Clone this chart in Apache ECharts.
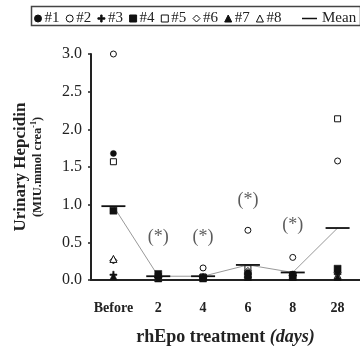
<!DOCTYPE html>
<html>
<head>
<meta charset="utf-8">
<script src="https://cdn.jsdelivr.net/npm/echarts@6/dist/echarts.min.js"></script>
<style>
html,body{margin:0;padding:0;background:#fff;}
#chart{width:360px;height:351px;}
</style>
</head>
<body>
<div id="chart"></div>
<script>
// ---- data ----
var categories = ['Before', '2', '4', '6', '8', '28'];
var s1 = [1.68, 0.04, 0.03, 0.10, 0.08, 0.12];   // #1 filled circle
var s2 = [3.00, 0.04, 0.16, 0.66, 0.30, 1.58];   // #2 open circle
var s3 = [0.07, 0.03, 0.03, 0.08, 0.06, 0.08];   // #3 plus
var s4 = [0.92, 0.08, 0.03, 0.06, 0.05, 0.15];   // #4 filled square
var s5 = [1.57, 0.05, 0.04, 0.15, 0.07, 2.14];   // #5 open square
var s6 = [0.26, 0.03, 0.03, 0.12, 0.06, 0.10];   // #6 open diamond
var s7 = [0.05, 0.02, 0.02, 0.04, 0.04, 0.04];   // #7 filled triangle
var s8 = [0.28, 0.03, 0.04, 0.08, 0.05, 0.06];   // #8 open triangle
var meanValues = [0.98, 0.05, 0.05, 0.20, 0.10, 0.69];
var sigPositions = [null, 0.57, 0.57, 1.06, 0.73, null];
var yTicks = [0, 0.5, 1.0, 1.5, 2.0, 2.5, 3.0];

var INK = '#111';
var SERIF = '"Liberation Serif", "Times New Roman", serif';
var PLUS = 'path://M4,0H6V4H10V6H6V10H4V6H0V4H4Z';

function marker(name, data, symbol, filled, size) {
  return {
    name: name,
    type: 'scatter',
    data: data,
    symbol: symbol,
    symbolSize: size || 6,
    itemStyle: {
      color: filled ? INK : '#fff',
      borderColor: INK,
      borderWidth: filled ? 0.5 : 1,
      opacity: 1
    },
    emphasis: {disabled: true},
    z: filled ? 4 : 3
  };
}

var option = {
  animation: false,
  backgroundColor: '#fff',
  textStyle: {fontFamily: SERIF},
  graphic: [{
    type: 'rect',
    left: 29, top: 4,
    shape: {width: 329, height: 19},
    style: {fill: 'none', stroke: '#444', lineWidth: 1.5},
    silent: true
  }],
  legend: [{
    left: 29, top: 6,
    orient: 'horizontal',
    itemWidth: 7, itemHeight: 7,
    itemGap: 6.2,
    selectedMode: false,
    textStyle: {fontFamily: SERIF, fontSize: 15, color: '#222', padding: [0,0,0,-2]},
    itemStyle: {borderWidth: 1},
    data: [
      {name: '#1', icon: 'circle'},
      {name: '#2', icon: 'circle'},
      {name: '#3', icon: PLUS},
      {name: '#4', icon: 'rect'},
      {name: '#5', icon: 'rect'},
      {name: '#6', icon: 'diamond'},
      {name: '#7', icon: 'triangle'},
      {name: '#8', icon: 'triangle'}
    ]
  }, {
    left: 297, top: 6,
    itemWidth: 15, itemHeight: 1.5,
    selectedMode: false,
    textStyle: {fontFamily: SERIF, fontSize: 15, color: '#222'},
    data: [{name: 'Mean', icon: 'rect'}]
  }],
  grid: {left: 91, right: -2, top: 54, bottom: 71, containLabel: false},
  xAxis: {
    type: 'category',
    data: categories,
    offset: 13,
    boundaryGap: true,
    axisLine: {lineStyle: {color: '#222', width: 2}},
    axisTick: {show: false},
    axisLabel: {interval: 0, fontFamily: SERIF, fontWeight: 'bold', fontSize: 14, color: '#222', margin: 8},
    name: '{a|rhEpo treatment }{b|(days)}',
    nameLocation: 'middle',
    nameGap: 35,
    nameTextStyle: {
      rich: {
        a: {fontFamily: SERIF, fontWeight: 'bold', fontSize: 18, color: '#222'},
        b: {fontFamily: SERIF, fontWeight: 'bold', fontStyle: 'italic', fontSize: 18, color: '#222'}
      }
    }
  },
  yAxis: {
    type: 'value',
    min: 0, max: 3, interval: 0.5,
    axisLine: {show: true, lineStyle: {color: '#222', width: 2}},
    axisTick: {show: true, length: 3, lineStyle: {color: '#222', width: 1.5}},
    splitLine: {show: false},
    axisLabel: {
      fontFamily: SERIF, fontSize: 16, color: '#222', margin: 9,
      formatter: function (v) { return yTicks.indexOf(v) >= 0 ? v.toFixed(1) : ''; }
    },
    name: '{a|Urinary Hepcidin}\n{b|(MIU.mmol crea}{c|-1}{b|)}',
    nameLocation: 'middle',
    nameRotate: 90,
    nameGap: 46,
    nameTextStyle: {
      rich: {
        a: {fontFamily: SERIF, fontWeight: 'bold', fontSize: 17, lineHeight: 18, color: '#222'},
        b: {fontFamily: SERIF, fontWeight: 'bold', fontSize: 12.5, lineHeight: 15, color: '#222'},
        c: {fontFamily: SERIF, fontWeight: 'bold', fontSize: 8, lineHeight: 15, verticalAlign: 'top', color: '#222'}
      }
    }
  },
  series: [
    marker('#2', s2, 'circle', false, 6),
    marker('#5', s5, 'rect', false, 6),
    marker('#6', s6, 'diamond', false, 7),
    marker('#8', s8, 'triangle', false, 7),
    marker('#1', s1, 'circle', true, 6),
    marker('#3', s3, PLUS, true, 7),
    marker('#4', s4, 'rect', true, 7),
    marker('#7', s7, 'triangle', true, 7),
    {
      name: 'Mean',
      type: 'line',
      data: meanValues,
      symbol: 'rect',
      symbolSize: [24, 1.8],
      itemStyle: {color: INK},
      lineStyle: {color: '#999', width: 1},
      emphasis: {disabled: true},
      z: 2
    },
    {
      name: 'sig',
      type: 'scatter',
      data: sigPositions,
      symbolSize: 1,
      itemStyle: {color: 'rgba(0,0,0,0)'},
      label: {
        show: true, position: 'inside', formatter: '(*)',
        fontFamily: SERIF, fontSize: 18, color: '#333'
      },
      emphasis: {disabled: true},
      z: 5
    }
  ]
};

var chart = echarts.init(document.getElementById('chart'), null, {renderer: 'canvas'});
chart.setOption(option);
</script>
</body>
</html>
